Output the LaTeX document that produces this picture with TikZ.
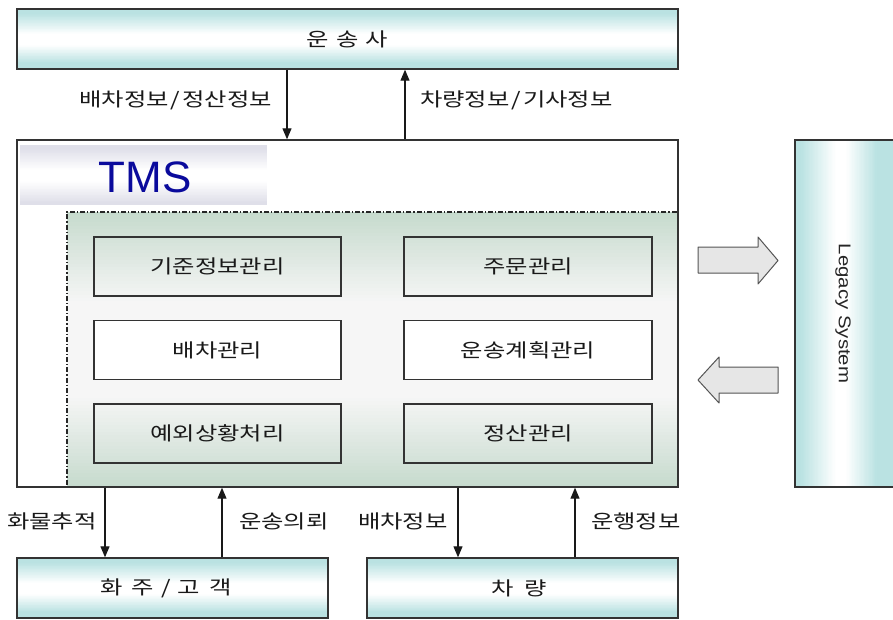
\documentclass[tikz,border=0pt]{standalone}
\usepackage{fontspec}
\newfontfamily\kr[FakeStretch=1.28]{Noto Sans CJK KR}
\newfontfamily\tmsfont{Liberation Sans}
\newfontfamily\legfont[FakeStretch=1.2]{Liberation Sans}
\usetikzlibrary{arrows.meta,calc}
\definecolor{cyanC}{HTML}{BAE2E2}
\definecolor{greenC}{HTML}{C6DACD}
\definecolor{lightC}{HTML}{F6F6F6}
\definecolor{lavC}{HTML}{DFDFE9}
\definecolor{navyC}{HTML}{0A0A9C}
\definecolor{edgeC}{HTML}{333333}
\definecolor{arrC}{HTML}{E6E6E6}
\definecolor{arrEdge}{HTML}{555555}
\tikzset{
  vgrad/.style n args={3}{path picture={
    \foreach \i in {0,...,79}{
      \pgfmathsetmacro\ta{\i/80}
      \pgfmathsetmacro\tb{min(1,(\i+1.8)/80)}
      \pgfmathsetmacro\tm{(\i+0.5)/80}
      \pgfmathsetmacro\pp{100*max(0,min(1,#3))}
      \fill[#1!\pp!#2] ($(path picture bounding box.north west)!\ta!(path picture bounding box.south west)$) rectangle ($(path picture bounding box.north east)!\tb!(path picture bounding box.south east)$);
    }}},
  hgrad/.style n args={3}{path picture={
    \foreach \i in {0,...,79}{
      \pgfmathsetmacro\ta{\i/80}
      \pgfmathsetmacro\tb{min(1,(\i+1.8)/80)}
      \pgfmathsetmacro\tm{(\i+0.5)/80}
      \pgfmathsetmacro\pp{100*max(0,min(1,#3))}
      \fill[#1!\pp!#2] ($(path picture bounding box.north west)!\ta!(path picture bounding box.north east)$) rectangle ($(path picture bounding box.south west)!\tb!(path picture bounding box.south east)$);
    }}},
  cyanband/.style={vgrad={cyanC}{white}{max((0.42-\tm)/0.34,(\tm-0.6)/0.3)}},
  outerbox/.style={draw=edgeC, line width=1.4pt, cyanband, inner sep=0pt},
  modbox/.style={draw=edgeC, line width=1.4pt, inner sep=0pt, minimum height=59pt},
  lbl/.style={font=\kr\fontsize{19}{22}\selectfont, text=black!90, inner sep=0pt},
  flow/.style={line width=1.1pt, draw=black!90, -{Triangle[length=11pt,width=9pt]}},
  blockarrow/.style={fill=arrC, draw=arrEdge, line width=1pt, line join=round}
}
\begin{document}
\begin{tikzpicture}[x=1pt,y=1pt]
\clip (0,0) rectangle (893,-619);
\fill[white] (0,0) rectangle (893,-619);

% carrier
\node[outerbox, minimum width=661pt, minimum height=60pt] (carrier) at (347.5,-39) {};
\node[lbl] (carriertxt) at (carrier.center) {운\hspace{7pt}송\hspace{7pt}사};

% TMS core region
\node[draw=black!85, line width=1.1pt, dash pattern=on 5pt off 2pt on 1.2pt off 2pt, vgrad={greenC}{lightC}{max((0.33-\tm)/0.33,(\tm-0.67)/0.33)}, minimum width=611pt, minimum height=275pt, inner sep=0pt] (core) at (372.5,-349.5) {};
% TMS outer box
\node[draw=edgeC, line width=1.4pt, minimum width=661pt, minimum height=347pt, inner sep=0pt] (tms) at (347.5,-313.5) {};
% banner
\node[vgrad={lavC}{white}{max((0.42-\tm)/0.36,(\tm-0.6)/0.36)}, minimum width=247pt, minimum height=60pt, inner sep=0pt] (banner) at (143.5,-175) {};
\node[font=\tmsfont\fontsize{44}{44}\selectfont, text=navyC, inner sep=0pt] (tmstxt) at (145,-177) {TMS};

% modules
\node[modbox, minimum width=247pt] (m1) at (217.5,-266.5) {};
\node[lbl] at (m1.center) {기준정보관리};
\node[modbox, minimum width=248pt] (m2) at (528,-266.5) {};
\node[lbl] at (m2.center) {주문관리};
\node[modbox, fill=white, minimum width=247pt] (m3) at (217.5,-350) {};
\node[lbl] at (m3.center) {배차관리};
\node[modbox, fill=white, minimum width=248pt] (m4) at (528,-350) {};
\node[lbl] at (m4.center) {운송계획관리};
\node[modbox, minimum width=247pt] (m5) at (217.5,-433.5) {};
\node[lbl] at (m5.center) {예외상황처리};
\node[modbox, minimum width=248pt] (m6) at (528,-433.5) {};
\node[lbl] at (m6.center) {정산관리};

% legacy
\node[draw=edgeC, line width=1.4pt, hgrad={cyanC}{white}{max((0.4-\tm)/0.34,(\tm-0.5)/0.3)}, minimum width=102pt, minimum height=347pt, inner sep=0pt] (legacy) at (846,-313.5) {};
\node[font=\legfont\fontsize{17}{20}\selectfont, text=black!85, rotate=-90, inner sep=0pt] (legtxt) at (843,-313.5) {Legacy System};

% block arrows
\draw[blockarrow] (698,-247) -- (758,-247) -- (758,-237) -- (778,-260.5) -- (758,-284) -- (758,-273) -- (698,-273) -- cycle;
\draw[blockarrow] (778,-367) -- (719,-367) -- (719,-357) -- (698,-380) -- (719,-403) -- (719,-393) -- (778,-393) -- cycle;

% bottom boxes
\node[outerbox, minimum width=311pt, minimum height=60pt] (shipper) at (172.5,-588) {};
\node[lbl] at (166,-588) {화\hspace{9pt}주\hspace{7pt}/\hspace{7pt}고\hspace{9pt}객};
\node[outerbox, minimum width=311pt, minimum height=60pt] (vehicle) at (522.5,-588) {};
\node[lbl] at (519,-588) {차\hspace{10pt}량};

% connectors
\coordinate (c1) at (287,0);
\coordinate (c2) at (405,0);
\coordinate (c3) at (105,0);
\coordinate (c4) at (222,0);
\coordinate (c5) at (458,0);
\coordinate (c6) at (575,0);
\draw[flow] (c1 |- carrier.south) -- (c1 |- tms.north);
\draw[flow] (c2 |- tms.north) -- (c2 |- carrier.south);
\draw[flow] (c3 |- tms.south) -- (c3 |- shipper.north);
\draw[flow] (c4 |- shipper.north) -- (c4 |- tms.south);
\draw[flow] (c5 |- tms.south) -- (c5 |- vehicle.north);
\draw[flow] (c6 |- vehicle.north) -- (c6 |- tms.south);

% connector labels
\node[lbl, anchor=east] (l1) at (272,-100) {배차정보\hspace{2pt}/\hspace{2pt}정산정보};
\node[lbl, anchor=west] (l2) at (420,-100) {차량정보\hspace{2pt}/\hspace{2pt}기사정보};
\node[lbl, anchor=west] (l3) at (7,-521) {화물추적};
\node[lbl, anchor=west] (l4) at (239,-521) {운송의뢰};
\node[lbl, anchor=west] (l5) at (358,-521) {배차정보};
\node[lbl, anchor=west] (l6) at (591,-521) {운행정보};
\end{tikzpicture}
\end{document}
